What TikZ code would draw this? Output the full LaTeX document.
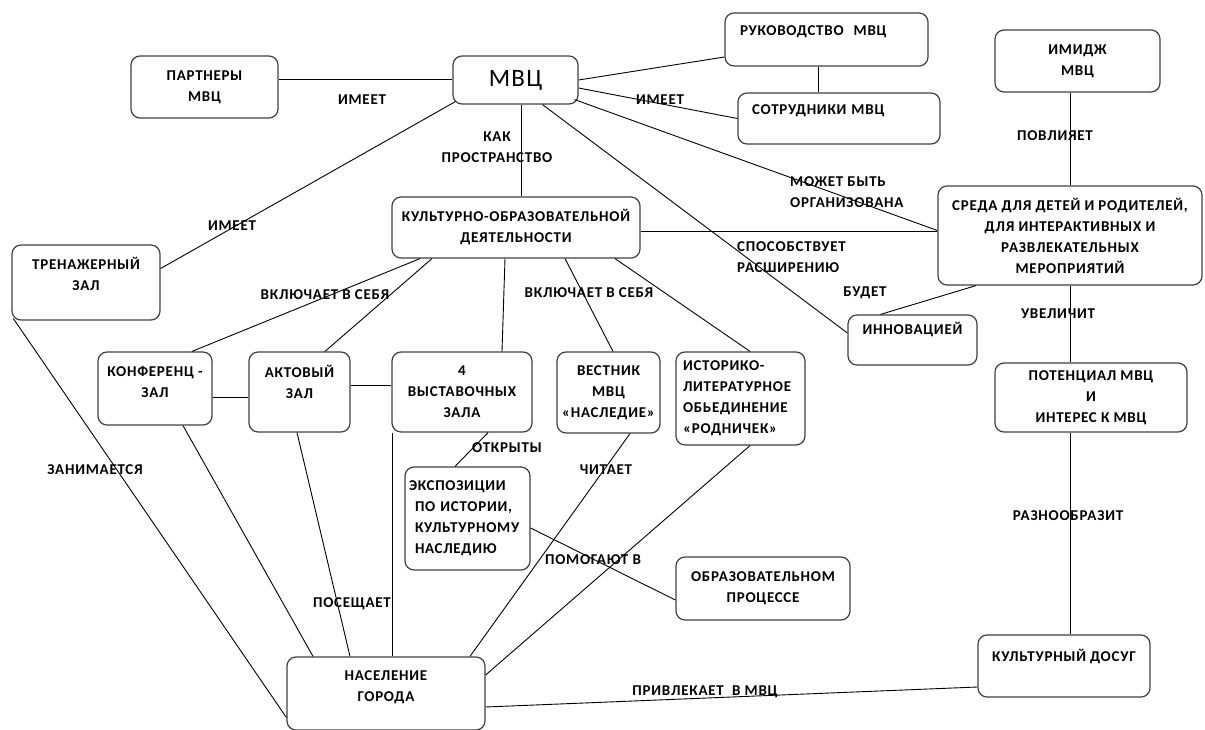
\documentclass[tikz,border=0pt]{standalone}
\usepackage{fontspec}
\setmainfont{Carlito}[LetterSpace=5]
\newcommand\tekst{\fontsize{15}{21}\selectfont\bfseries}
\tikzset{
  blok/.style={draw=black!75,line width=1.2pt,rounded corners=9pt,align=center,font=\tekst,inner sep=3pt},
  razm/.style 2 args={minimum width=#1pt,minimum height=#2pt},
  podpis/.style={font=\tekst,inner sep=0pt,align=center},
  svyaz/.style={line width=0.9pt}
}

\begin{document}
\begin{tikzpicture}[x=1pt,y=-1pt]
\useasboundingbox (0,0) rectangle (1205,730);

\node[blok,razm={147}{62}] (partn) at (204.5,87) {ПАРТНЕРЫ\\МВЦ};
\node[blok,razm={125}{48},font=\fontsize{25}{30}\selectfont] (mvc) at (515.5,80) {МВЦ};
\node[blok,razm={203}{53},text width=173pt,align=left,inner xsep=15pt] (ruk) at (826.5,39.5) {РУКОВОДСТВО\ \ МВЦ\\[-4pt]\mbox{}};
\node[blok,razm={202}{51},text width=174pt,align=left,inner xsep=14pt] (sotr) at (839,118.5) {СОТРУДНИКИ МВЦ\\[-4pt]\mbox{}};
\node[blok,razm={165}{62}] (imidzh) at (1077.5,61) {ИМИДЖ\\МВЦ};
\node[blok,razm={264}{99}] (sreda) at (1070,235.5) {СРЕДА ДЛЯ ДЕТЕЙ И РОДИТЕЛЕЙ,\\ДЛЯ ИНТЕРАКТИВНЫХ И\\РАЗВЛЕКАТЕЛЬНЫХ\\МЕРОПРИЯТИЙ};
\node[blok,razm={248}{61}] (kult) at (516,227.5) {КУЛЬТУРНО-ОБРАЗОВАТЕЛЬНОЙ\\ДЕЯТЕЛЬНОСТИ};
\node[blok,razm={148}{75}] (trenazh) at (86,282.5) {ТРЕНАЖЕРНЫЙ\\ЗАЛ\\[-4pt]\mbox{}};
\node[blok,razm={129}{50}] (innov) at (912.5,340) {ИННОВАЦИЕЙ\\[3pt]\mbox{}};
\node[blok,razm={192}{69}] (potenc) at (1091,397.5) {ПОТЕНЦИАЛ МВЦ\\И\\ИНТЕРЕС К МВЦ};
\node[blok,razm={114}{73}] (konf) at (155,388.5) {КОНФЕРЕНЦ -\\ЗАЛ\\[-7pt]\mbox{}};
\node[blok,razm={101}{80}] (akt) at (299.5,392) {АКТОВЫЙ\\ЗАЛ\\\mbox{}};
\node[blok,razm={140}{80}] (vyst) at (462,392) {4\\ВЫСТАВОЧНЫХ\\ЗАЛА};
\node[blok,razm={103}{81}] (vestn) at (608.5,392.5) {ВЕСТНИК\\МВЦ\\«НАСЛЕДИЕ»};
\node[blok,razm={129}{93},text width=115pt,align=left,inner xsep=7pt] (istor) at (740.5,398.5) {ИСТОРИКО-\\ЛИТЕРАТУРНОЕ\\ОБЬЕДИНЕНИЕ\\«РОДНИЧЕК»};
\node[blok,razm={125}{103},text width=117pt,align=left,inner xsep=4pt] (ekspo) at (467.5,518.5) {ЭКСПОЗИЦИИ\\\hspace*{6pt}ПО ИСТОРИИ,\\\hspace*{6pt}КУЛЬТУРНОМУ\\\hspace*{6pt}НАСЛЕДИЮ};
\node[blok,razm={174}{63}] (obraz) at (763,588.5) {ОБРАЗОВАТЕЛЬНОМ\\ПРОЦЕССЕ};
\node[blok,razm={172}{62}] (dosug) at (1064,666) {КУЛЬТУРНЫЙ ДОСУГ\\[1pt]\mbox{}};
\node[blok,razm={198}{73}] (nasel) at (386,693.5) {НАСЕЛЕНИЕ\\ГОРОДА\\[-6pt]\mbox{}};

\draw[svyaz] ([yshift=8pt]partn.east) -- ([yshift=1pt]mvc.west);
\draw[svyaz] (mvc.east) -- ([yshift=-17.5pt]ruk.west);
\draw[svyaz] ([yshift=-8pt]mvc.east) -- (sotr.west);
\draw[svyaz] ([xshift=-8.5pt]ruk.south) -- ([xshift=-8.5pt]ruk.south |- sotr.north);
\draw[svyaz] (imidzh.south -| sreda.north) -- (sreda.north);
\draw[svyaz] ([xshift=-4pt,yshift=5pt]mvc.south east) -- ([yshift=5pt]sreda.west);
\draw[svyaz] ([xshift=6pt]mvc.south) -- ([xshift=6pt]mvc.south |- kult.north);
\draw[svyaz] ([yshift=-4pt]kult.east) -- ([yshift=-4pt]kult.east -| sreda.west);
\draw[svyaz] ([xshift=27pt]mvc.south) -- ([yshift=7pt]innov.west);
\draw[svyaz] ([xshift=-94pt]sreda.south) -- ([xshift=-32pt]innov.north);
\draw[svyaz] (sreda.south) -- (sreda.south |- potenc.north);
\draw[svyaz] (sreda.south |- potenc.south) -- (sreda.south |- dosug.north);
\draw[svyaz] ([yshift=-21pt]dosug.west) -- ([yshift=-13.5pt]nasel.east);
\draw[svyaz] ([xshift=3pt,yshift=3pt]mvc.south west) -- ([yshift=14pt]trenazh.east);
\draw[svyaz] ([xshift=2pt,yshift=2pt]trenazh.south west) -- ([yshift=-24pt]nasel.west);
\draw[svyaz] ([xshift=-96pt]kult.south) -- ([xshift=37pt]konf.north);
\draw[svyaz] ([xshift=-84pt]kult.south) -- ([xshift=25.5pt]akt.north);
\draw[svyaz] ([xshift=-11pt]kult.south) -- ([xshift=40pt]vyst.north);
\draw[svyaz] ([xshift=49pt]kult.south) -- ([xshift=4.5pt]vestn.north);
\draw[svyaz] ([xshift=99pt]kult.south) -- ([xshift=9.5pt]istor.north);
\draw[svyaz] ([yshift=-8.5pt]konf.east) -- ([yshift=-8.5pt]konf.east -| akt.west);
\draw[svyaz] ([yshift=7pt]akt.east) -- ([yshift=7pt]akt.east -| vyst.west);
\draw[svyaz] ([xshift=26pt]vyst.south) -- ([xshift=-12.5pt]ekspo.north);
\draw[svyaz] ([yshift=-9.5pt]ekspo.east) -- ([yshift=-11.5pt]obraz.west);
\draw[svyaz] ([xshift=21.5pt]vestn.south) -- ([xshift=84pt]nasel.north);
\draw[svyaz] ([xshift=9.5pt]istor.south) -- ([yshift=18.5pt]nasel.east);
\draw[svyaz] ([xshift=28pt]konf.south) -- ([xshift=-73pt]nasel.north);
\draw[svyaz] ([xshift=-2.5pt]akt.south) -- ([xshift=-36pt]nasel.north);
\draw[svyaz] ([xshift=1.5pt]vyst.south west) -- ([xshift=1.5pt]vyst.south west |- nasel.north);

\node[podpis] (imeet1) at (362,100) {ИМЕЕТ};
\node[podpis] (imeet2) at (660,100) {ИМЕЕТ};
\node[podpis] (imeet3) at (232,226) {ИМЕЕТ};
\node[podpis] (povliyaet) at (1055,136) {ПОВЛИЯЕТ};
\node[podpis,align=left,anchor=west] (mozhet) at (790,192) {МОЖЕТ БЫТЬ\\ОРГАНИЗОВАНА};
\node[podpis] (kak) at (497,147) {КАК\\ПРОСТРАНСТВО};
\node[podpis,align=left,anchor=west] (sposob) at (737,257) {СПОСОБСТВУЕТ\\РАСШИРЕНИЮ};
\node[podpis] (budet) at (865,293) {БУДЕТ};
\node[podpis] (uvelichit) at (1058,314) {УВЕЛИЧИТ};
\node[podpis] (raznoobr) at (1068,516) {РАЗНООБРАЗИТ};
\node[podpis] (privlek) at (705,692) {ПРИВЛЕКАЕТ\ \ В МВЦ};
\node[podpis] (zanim) at (95,470) {ЗАНИМАЕТСЯ};
\node[podpis] (vklyuch1) at (325,295) {ВКЛЮЧАЕТ В СЕБЯ};
\node[podpis] (vklyuch2) at (589,293) {ВКЛЮЧАЕТ В СЕБЯ};
\node[podpis] (otkryty) at (507,448) {ОТКРЫТЫ};
\node[podpis] (pomogayut) at (593,560) {ПОМОГАЮТ В};
\node[podpis] (chitaet) at (606,470) {ЧИТАЕТ};
\node[podpis] (poseshch) at (352,604) {ПОСЕЩАЕТ};
\end{tikzpicture}
\end{document}
